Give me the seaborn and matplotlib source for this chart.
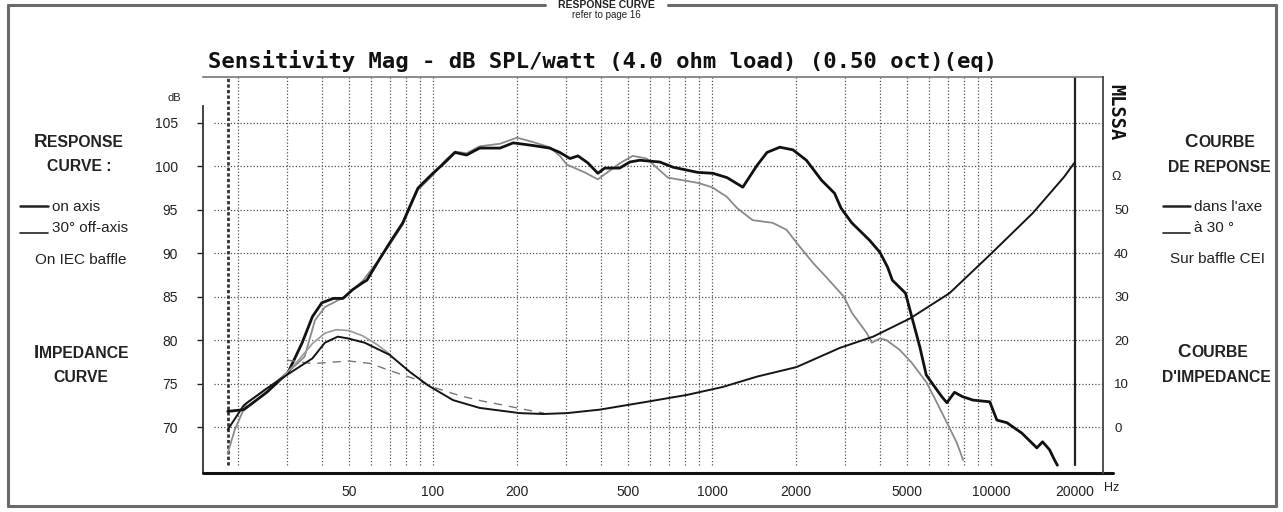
import matplotlib
matplotlib.use('Agg')
import matplotlib.pyplot as plt
from matplotlib.lines import Line2D
from matplotlib.ticker import NullLocator
import seaborn as sns

W, H = 1283, 512

# on-axis response, Hz / dB SPL
f_on = [18.4, 21, 25.4, 30.3, 34, 37, 40, 44, 47.6, 51.5,
        56, 58, 64.6, 71, 78, 82.7, 88.4, 100, 110, 120,
        132, 147, 174, 194, 228, 262, 285, 310, 331, 359,
        390, 413, 467, 508, 551, 650, 725, 890, 1008, 1133,
        1290, 1450, 1575, 1750, 1950, 2180, 2470, 2750, 2900, 3170,
        3670, 4000, 4260, 4430, 4940, 5200, 5560, 5860, 6100, 6660,
        6950, 7400, 7900, 8620, 9900, 10500, 11400, 12900, 14600, 15300,
        16200, 16900, 17300]
db_on = [71.8, 72.0, 74.0, 76.3, 79.7, 82.7, 84.3, 84.8, 84.8, 85.8,
         86.6, 86.9, 89.4, 91.5, 93.5, 95.4, 97.5, 99.2, 100.4, 101.6,
         101.3, 102.1, 102.1, 102.7, 102.4, 102.1, 101.6, 100.9, 101.2, 100.4,
         99.2, 99.8, 99.8, 100.5, 100.7, 100.5, 99.9, 99.3, 99.2, 98.7,
         97.6, 100.1, 101.6, 102.2, 101.9, 100.7, 98.4, 96.9, 95.2, 93.5,
         91.5, 90.1, 88.4, 86.9, 85.4, 82.7, 79.2, 76.0, 75.2, 73.5,
         72.8, 74.0, 73.5, 73.1, 72.9, 70.8, 70.5, 69.3, 67.6, 68.3,
         67.4, 66.2, 65.6]

# 30 deg off-axis response
f_off = [18.4, 19.5, 21.5, 25, 30, 34.7, 37.8, 41, 48.4, 56,
         64.6, 71, 78, 82.7, 88.4, 100, 110, 120, 132, 147,
         174, 200, 228, 262, 285, 302, 350, 390, 430, 470,
         520, 583, 695, 890, 1000, 1130, 1230, 1400, 1650, 1850,
         2070, 2300, 2560, 2970, 3180, 3590, 3740, 4000, 4220, 4700,
         5200, 5880, 6400, 6950, 7540, 7950]
db_off = [67.0, 69.7, 72.8, 74.2, 76.2, 78.1, 82.3, 83.8, 85.0, 86.8,
          89.4, 91.3, 93.3, 95.2, 97.3, 99.0, 100.6, 101.7, 101.5, 102.3,
          102.6, 103.3, 102.8, 102.2, 101.2, 100.2, 99.3, 98.5, 99.5, 100.4,
          101.2, 100.9, 98.7, 98.1, 97.6, 96.5, 95.2, 93.8, 93.5, 92.7,
          90.7, 88.9, 87.3, 85.0, 83.1, 80.8, 79.7, 80.2, 80.0, 78.9,
          77.4, 75.1, 72.8, 70.5, 68.2, 66.2]

# impedance, ohm (right scale)
f_imp = [18.4, 21, 25, 30, 37, 41, 45.6, 49.6, 57, 67,
         70, 83, 96, 118, 147, 205, 248, 302, 396, 583,
         815, 1090, 1450, 2010, 2870, 3780, 5130, 7100, 9900, 14100,
         18300, 20000]
ohm_imp = [-0.6, 5.0, 8.6, 12.0, 15.8, 19.4, 20.8, 20.4, 19.4, 17.2,
           16.6, 12.6, 9.6, 6.2, 4.4, 3.2, 3.0, 3.2, 4.0, 5.8,
           7.4, 9.2, 11.6, 13.8, 18.2, 20.8, 25.0, 30.8, 39.6, 49.2,
           57.6, 61.0]
# light grey impedance bump
f_imp_b = [28, 32, 37, 41, 45, 50, 56, 63, 70]
ohm_imp_b = [10.6, 14.4, 19.2, 21.6, 22.4, 22.2, 21.0, 19.0, 16.8]
# dashed impedance
f_imp_d = [30, 37, 50, 60, 70, 85, 100, 125, 150, 180, 215, 250]
ohm_imp_d = [15.4, 14.6, 15.2, 14.6, 13.0, 11.2, 9.2, 7.2, 6.0, 5.0, 4.0, 3.2]

db_ticks = [70, 75, 80, 85, 90, 95, 100, 105]
ohm_ticks = [0, 10, 20, 30, 40, 50]
hz_ticks = [50, 100, 200, 500, 1000, 2000, 5000, 10000, 20000]
hz_grid = [20, 30, 40, 50, 60, 70, 80, 90, 100, 200, 300, 400, 500, 600, 700,
           800, 900, 1000, 2000, 3000, 4000, 5000, 6000, 7000, 8000, 9000, 10000]
title = 'Sensitivity Mag - dB SPL/watt (4.0 ohm load) (0.50 oct)(eq)'

sns.set_theme(style='white')
plt.rcParams['font.family'] = ['Liberation Sans', 'DejaVu Sans']

fig = plt.figure(figsize=(W / 100, H / 100), dpi=100)
fig.patch.set_facecolor('white')


def fx(x):
    return x / W


def fy(y):
    return 1 - y / H


ylo, yhi = 64.71, 110.28
ax = fig.add_axes([fx(203), fy(473), 900 / W, 396 / H])
ax.set_facecolor('white')
ax.set_xscale('log')
ax.set_xlim(15, 25200)
ax.set_ylim(ylo, yhi)

dot = (0, (1, 1.6))
ax.vlines(hz_grid, 65.6, yhi, colors='#555', lw=0.9, linestyles=dot, zorder=1)
ax.hlines(db_ticks, 16.4, 25200, colors='#555', lw=0.9, linestyles=dot, zorder=1)
ax.axvline(18.4, ymin=0.02, color='#333', lw=2.0, ls=(0, (1.2, 0.8)), zorder=1)
ax.axvline(20000, ymin=0.02, color='#222', lw=1.6, zorder=1)

sns.lineplot(x=f_off, y=db_off, ax=ax, color='#8a8a8a', lw=1.3,
             estimator=None, sort=False, zorder=3)
sns.lineplot(x=f_on, y=db_on, ax=ax, color='#111', lw=2.0,
             estimator=None, sort=False, zorder=4)

ax.set_xticks(hz_ticks)
ax.set_xticklabels([str(v) for v in hz_ticks])
ax.xaxis.set_minor_locator(NullLocator())
ax.tick_params(axis='x', length=0, pad=9, labelsize=10, colors='#222')
for lbl in ax.get_xticklabels():
    lbl.set_family(['Liberation Sans Narrow', 'Liberation Sans'])
ax.set_yticks(db_ticks)
ax.tick_params(axis='y', direction='out', length=4, width=1, pad=14,
               labelsize=10, colors='#222', left=True)
ax.set_xlabel('')
ax.set_ylabel('')

for s in ['right', 'bottom']:
    ax.spines[s].set_visible(False)
ax.spines['left'].set_bounds(ylo, 107)
ax.spines['left'].set_color('#333')
ax.spines['left'].set_linewidth(1.3)
ax.spines['top'].set_color('#777')
ax.spines['top'].set_linewidth(1.2)
ax.plot([0, 1.011], [0, 0], transform=ax.transAxes, clip_on=False,
        color='#111', lw=2.2, zorder=5)

ax2 = ax.twinx()
ax2.set_ylim((ylo - 70) * 2, (yhi - 70) * 2)
sns.lineplot(x=f_imp_b, y=ohm_imp_b, ax=ax2, color='#9a9a9a', lw=1.2,
             estimator=None, sort=False)
sns.lineplot(x=f_imp_d, y=ohm_imp_d, ax=ax2, color='#777', lw=1.0,
             ls=(0, (6, 5)), estimator=None, sort=False)
sns.lineplot(x=f_imp, y=ohm_imp, ax=ax2, color='#151515', lw=1.4,
             estimator=None, sort=False)
ax2.set_xlim(15, 25200)
ax2.set_yticks(ohm_ticks)
ax2.tick_params(axis='y', length=0, pad=8, labelsize=9.5, colors='#222', right=True)
ax2.set_xlabel('')
ax2.set_ylabel('')
for s in ['left', 'top', 'bottom']:
    ax2.spines[s].set_visible(False)
ax2.spines['right'].set_color('#444')
ax2.spines['right'].set_linewidth(1.3)

# texts around the plot
txt = '#222'
fig.text(fx(174), fy(98), 'dB', ha='center', va='center', fontsize=8, color=txt)
fig.text(fx(1112), fy(488), 'Hz', ha='center', va='center', fontsize=9,
         color=txt, family=['Liberation Sans Narrow', 'Liberation Sans'])
fig.text(fx(1116), fy(177), 'Ω', ha='center', va='center', fontsize=9, color=txt)
fig.text(fx(1116), fy(112), 'MLSSA', ha='center', va='center', rotation=-90,
         fontsize=13.5, fontweight='bold', family=['DejaVu Sans Mono'], color='#111')
fig.text(fx(208), fy(68), title, ha='left', va='baseline', fontsize=16,
         fontweight='bold', family=['DejaVu Sans Mono'], color='#111')

fig.text(fx(606), fy(0.5), 'RESPONSE CURVE', ha='center', va='top', fontsize=7.5,
         fontweight='bold', color=txt)
fig.text(fx(606), fy(18), 'refer to page 16', ha='center', va='baseline',
         fontsize=7, color=txt)


def smallcaps(xs, yb, first, rest, big=13.5, small=11.3):
    fig.text(fx(xs), fy(yb), first, ha='right', va='baseline', fontsize=big,
             fontweight='bold', color=txt)
    fig.text(fx(xs), fy(yb), rest, ha='left', va='baseline', fontsize=small,
             fontweight='bold', color=txt)


def ctext(x, yb, s, bold=False, size=11.3):
    fig.text(fx(x), fy(yb), s, ha='center', va='baseline', fontsize=size,
             fontweight='bold' if bold else 'normal', color=txt)


def legline(x0, x1, y, lw):
    fig.add_artist(Line2D([fx(x0), fx(x1)], [fy(y), fy(y)], color='#222', lw=lw))


# left block
smallcaps(47, 147, 'R', 'ESPONSE')
ctext(79, 171, 'CURVE :', bold=True)
legline(20, 48, 206, 1.8)
fig.text(fx(52), fy(211), 'on axis', ha='left', va='baseline', fontsize=11, color=txt)
legline(20, 48, 233, 1.2)
fig.text(fx(52), fy(232), '30° off-axis', ha='left', va='baseline', fontsize=11, color=txt)
ctext(81, 264, 'On IEC baffle', size=11)
smallcaps(39, 358, 'I', 'MPEDANCE')
ctext(81, 382, 'CURVE', bold=True)

# right block
smallcaps(1198, 147, 'C', 'OURBE')
ctext(1219, 172, 'DE REPONSE', bold=True)
legline(1163, 1190, 206, 1.8)
fig.text(fx(1194), fy(211), "dans l'axe", ha='left', va='baseline', fontsize=11, color=txt)
legline(1163, 1190, 233, 1.2)
fig.text(fx(1194), fy(232), 'à 30 °', ha='left', va='baseline', fontsize=11, color=txt)
ctext(1217, 263, 'Sur baffle CEI', size=11)
smallcaps(1191, 357, 'C', 'OURBE')
ctext(1216, 382, "D'IMPEDANCE", bold=True)

# outer frame of the page
frame = dict(color='#6a6a6a', lw=2.2)
fig.add_artist(Line2D([fx(8), fx(545)], [fy(5), fy(5)], **frame))
fig.add_artist(Line2D([fx(668), fx(1276)], [fy(5), fy(5)], **frame))
fig.add_artist(Line2D([fx(8), fx(8)], [fy(5), fy(506)], **frame))
fig.add_artist(Line2D([fx(1276), fx(1276)], [fy(5), fy(506)], **frame))
fig.add_artist(Line2D([fx(8), fx(1276)], [fy(506), fy(506)], **frame))

fig.savefig('out.png', dpi=100, facecolor='white')
